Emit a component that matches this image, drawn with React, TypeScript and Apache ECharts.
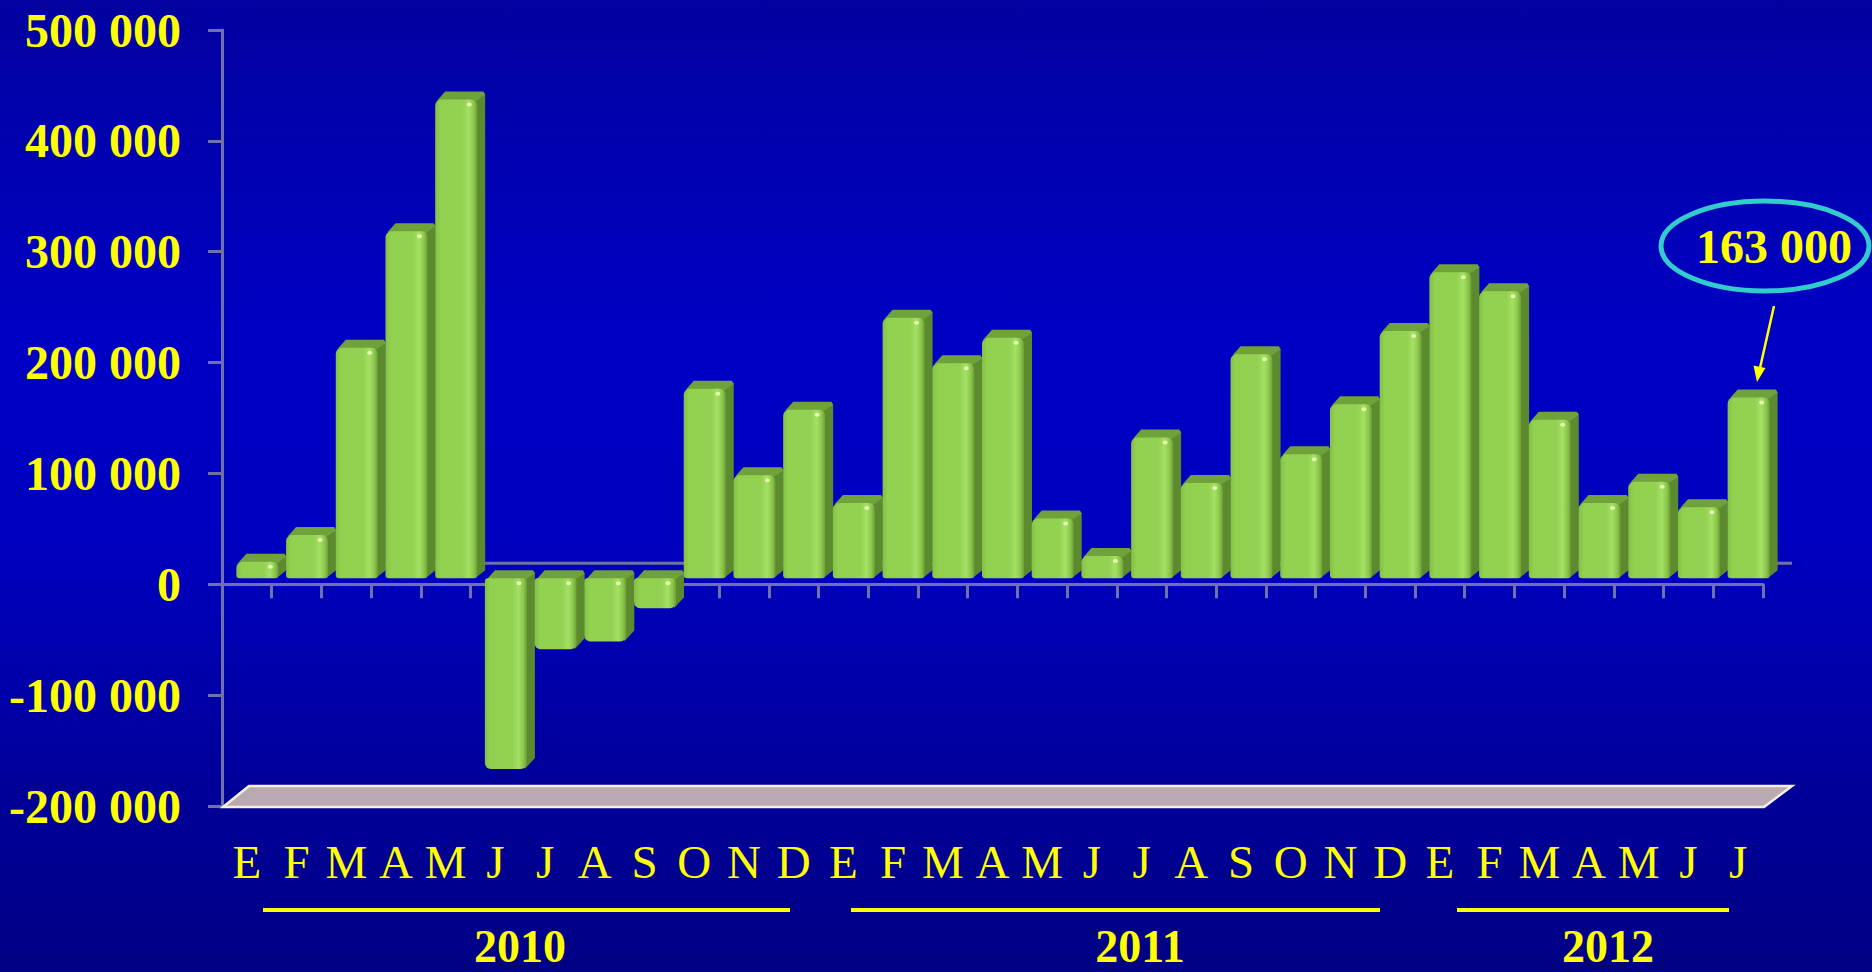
import { useEffect, useRef } from "react";
import * as echarts from "echarts";

// ---------- data ----------
const months = [
  "E", "F", "M", "A", "M", "J", "J", "A", "S", "O", "N", "D",
  "E", "F", "M", "A", "M", "J", "J", "A", "S", "O", "N", "D",
  "E", "F", "M", "A", "M", "J", "J",
];
const values2010 = [15000, 39000, 208000, 313000, 432000, -172000, -64000, -57000, -27000, 171000, 93000, 152000];
const values2011 = [68000, 235000, 194000, 217000, 54000, 20000, 127000, 86000, 202000, 112000, 157000, 223000];
const values2012 = [276000, 259000, 143000, 68000, 87000, 64000, 163000];
const years = ["2010", "2011", "2012"];
const yMin = -200000;
const yMax = 500000;
const yStep = 100000;
const calloutText = "163 000";

// ---------- layout / style ----------
const W = 1872;
const H = 972;
const GRID = { left: 222, top: 30, width: 1541, height: 776 };
const AXIS_COLOR = "#7070AA";
const YELLOW = "#FFFF00";
const SERIF = "'Liberation Serif', 'Times New Roman', serif";
const BAR_W = 42;
const BAR_OX = 10.5;
const BAR_OY = -6;
const BAR_DX = 8;
const BAR_DY = -8;
const WALL_DX = 27;
const WALL_DY = -21;

const fmt = (v: number) => {
  const s = Math.abs(v).toString().replace(/\B(?=(\d{3})+(?!\d))/g, " ");
  return (v < 0 ? "-" : "") + s;
};

export default function App() {
  const ref = useRef<HTMLDivElement>(null);
  useEffect(() => {
    if (!ref.current) return;
    const chart = echarts.init(ref.current, undefined, { renderer: "svg", width: W, height: H });
    const values = [...values2010, ...values2011, ...values2012];
    const data = values.map((v, i) => [i, v]);

    const frontFill = new echarts.graphic.LinearGradient(0, 0, 1, 0, [
      { offset: 0, color: "#84C044" },
      { offset: 0.12, color: "#92D050" },
      { offset: 0.65, color: "#93D152" },
      { offset: 0.8, color: "#A4E064" },
      { offset: 0.92, color: "#8AC64A" },
      { offset: 1, color: "#6E9E38" },
    ]);

    const renderItem = (params: any, api: any) => {
      const i = api.value(0);
      const v = api.value(1);
      const base = api.coord([i, 0]);
      const tip = api.coord([i, v]);
      const cx = base[0] + BAR_OX;
      const xl = cx - BAR_W / 2;
      const xr = cx + BAR_W / 2;
      const y0 = base[1] + BAR_OY;
      const y1 = tip[1] + BAR_OY;
      const yT = Math.min(y0, y1);
      const yB = Math.max(y0, y1);
      const pos = v >= 0;
      const r = 6;
      return {
        type: "group",
        children: [
          {
            type: "polygon",
            shape: {
              points: [
                [xr - 2, yT + 2],
                [xr + BAR_DX - 2, yT + BAR_DY],
                [xr + BAR_DX, yT + BAR_DY + 3],
                [xr + BAR_DX, yB + BAR_DY - (pos ? 0 : 3)],
                [xr - 2, yB],
              ],
            },
            style: { fill: "#5C8A2E" },
          },
          {
            type: "polygon",
            shape: {
              points: [
                [xl + 2, yT + 1],
                [xl + BAR_DX + 2, yT + BAR_DY],
                [xr + BAR_DX - 2, yT + BAR_DY],
                [xr + BAR_DX, yT + BAR_DY + 3],
                [xr - 2, yT + 2],
              ],
            },
            style: { fill: "#6FA23A" },
          },
          {
            type: "rect",
            shape: { x: xl, y: yT, width: BAR_W, height: Math.max(yB - yT, 1), r: pos ? [r, r, 3, 3] : [3, 3, r, r] },
            style: { fill: frontFill },
          },
          {
            type: "ellipse",
            shape: { cx: xr - 8, cy: yT + 5, rx: 2.5, ry: 2 },
            style: { fill: "#E6FFB0" },
          },
        ],
      };
    };

    const yBotPix = GRID.top + GRID.height;
    const xL = GRID.left;
    const xR = GRID.left + GRID.width;
    const zeroY = GRID.top + (GRID.height * yMax) / (yMax - yMin);

    const yearLines = [
      { x1: 263, x2: 790, cx: 520 },
      { x1: 851, x2: 1380, cx: 1140 },
      { x1: 1457, x2: 1729, cx: 1608 },
    ];

    chart.setOption({
      animation: false,
      backgroundColor: "transparent",
      grid: { ...GRID, containLabel: false, outerBoundsMode: "none" },
      xAxis: [
        {
          type: "category",
          data: months,
          boundaryGap: true,
          axisLine: { show: true, onZero: true, lineStyle: { color: AXIS_COLOR, width: 3 } },
          axisTick: { show: true, interval: 0, length: 14, alignWithLabel: false, lineStyle: { color: AXIS_COLOR, width: 3 } },
          axisLabel: { show: false },
          splitLine: { show: false },
        },
        {
          type: "category",
          data: months,
          position: "bottom",
          boundaryGap: true,
          axisLine: { show: false, onZero: false },
          axisTick: { show: false },
          axisLabel: {
            show: true,
            interval: 0,
            margin: 32,
            color: YELLOW,
            fontFamily: SERIF,
            fontSize: 47,
            lineHeight: 47,
          },
          splitLine: { show: false },
        },
      ],
      yAxis: {
        type: "value",
        min: yMin,
        max: yMax,
        interval: yStep,
        axisLine: { show: true, lineStyle: { color: AXIS_COLOR, width: 3 } },
        axisTick: { show: true, length: 14, lineStyle: { color: AXIS_COLOR, width: 3 } },
        splitLine: { show: false },
        axisLabel: {
          margin: 41,
          color: YELLOW,
          fontFamily: SERIF,
          fontWeight: "bold",
          fontSize: 48,
          formatter: (v: number) => fmt(v),
        },
      },
      series: [
        {
          type: "custom",
          xAxisIndex: 0,
          yAxisIndex: 0,
          data,
          encode: { x: 0, y: 1 },
          clip: false,
          z: 5,
          renderItem,
        },
      ],
      graphic: [
        // back wall zero line
        {
          type: "line",
          z: 1,
          shape: { x1: xL + WALL_DX, y1: zeroY + WALL_DY, x2: xR + WALL_DX + 2, y2: zeroY + WALL_DY },
          style: { stroke: AXIS_COLOR, lineWidth: 3 },
        },
        // floor
        {
          type: "polygon",
          z: 1,
          shape: {
            points: [
              [xL + 1, yBotPix + 1],
              [xR + 1, yBotPix + 1],
              [xR + WALL_DX + 2, yBotPix + 1 + WALL_DY],
              [xL + WALL_DX, yBotPix + 1 + WALL_DY],
            ],
          },
          style: { fill: "#B9A9B2", stroke: "#F4F0DE", lineWidth: 2.5 },
        },
        // year lines + labels
        ...yearLines.map((l) => ({
          type: "rect",
          z: 10,
          shape: { x: l.x1, y: 908, width: l.x2 - l.x1, height: 4 },
          style: { fill: YELLOW },
        })),
        ...years.map((y, k) => ({
          type: "text",
          z: 10,
          x: yearLines[k].cx,
          y: 946,
          style: {
            text: y,
            fill: YELLOW,
            font: `bold 46px ${SERIF}`,
            lineHeight: 42,
            align: "center",
            verticalAlign: "middle",
          },
        })),
        // callout
        {
          type: "ellipse",
          z: 20,
          shape: { cx: 1765, cy: 246, rx: 104, ry: 45 },
          style: { fill: "none", stroke: "#33CCCC", lineWidth: 5 },
        },
        {
          type: "text",
          z: 21,
          x: 1774,
          y: 246,
          style: {
            text: calloutText,
            fill: YELLOW,
            font: `bold 48px ${SERIF}`,
            align: "center",
            verticalAlign: "middle",
          },
        },
        {
          type: "line",
          z: 21,
          shape: { x1: 1774, y1: 306, x2: 1760, y2: 368 },
          style: { stroke: YELLOW, lineWidth: 2.5 },
        },
        {
          type: "polygon",
          z: 21,
          shape: { points: [[1757, 382], [1765.5, 368], [1753.5, 365.5]] },
          style: { fill: YELLOW },
        },
      ],
    });
    return () => chart.dispose();
  }, []);

  return (
    <div
      ref={ref}
      style={{
        position: "fixed",
        left: 0,
        top: 0,
        width: W,
        height: H,
        background: "linear-gradient(to bottom, #0202A0 0%, #0000C4 35%, #0000C0 55%, #00009A 80%, #000084 100%)",
      }}
    />
  );
}
